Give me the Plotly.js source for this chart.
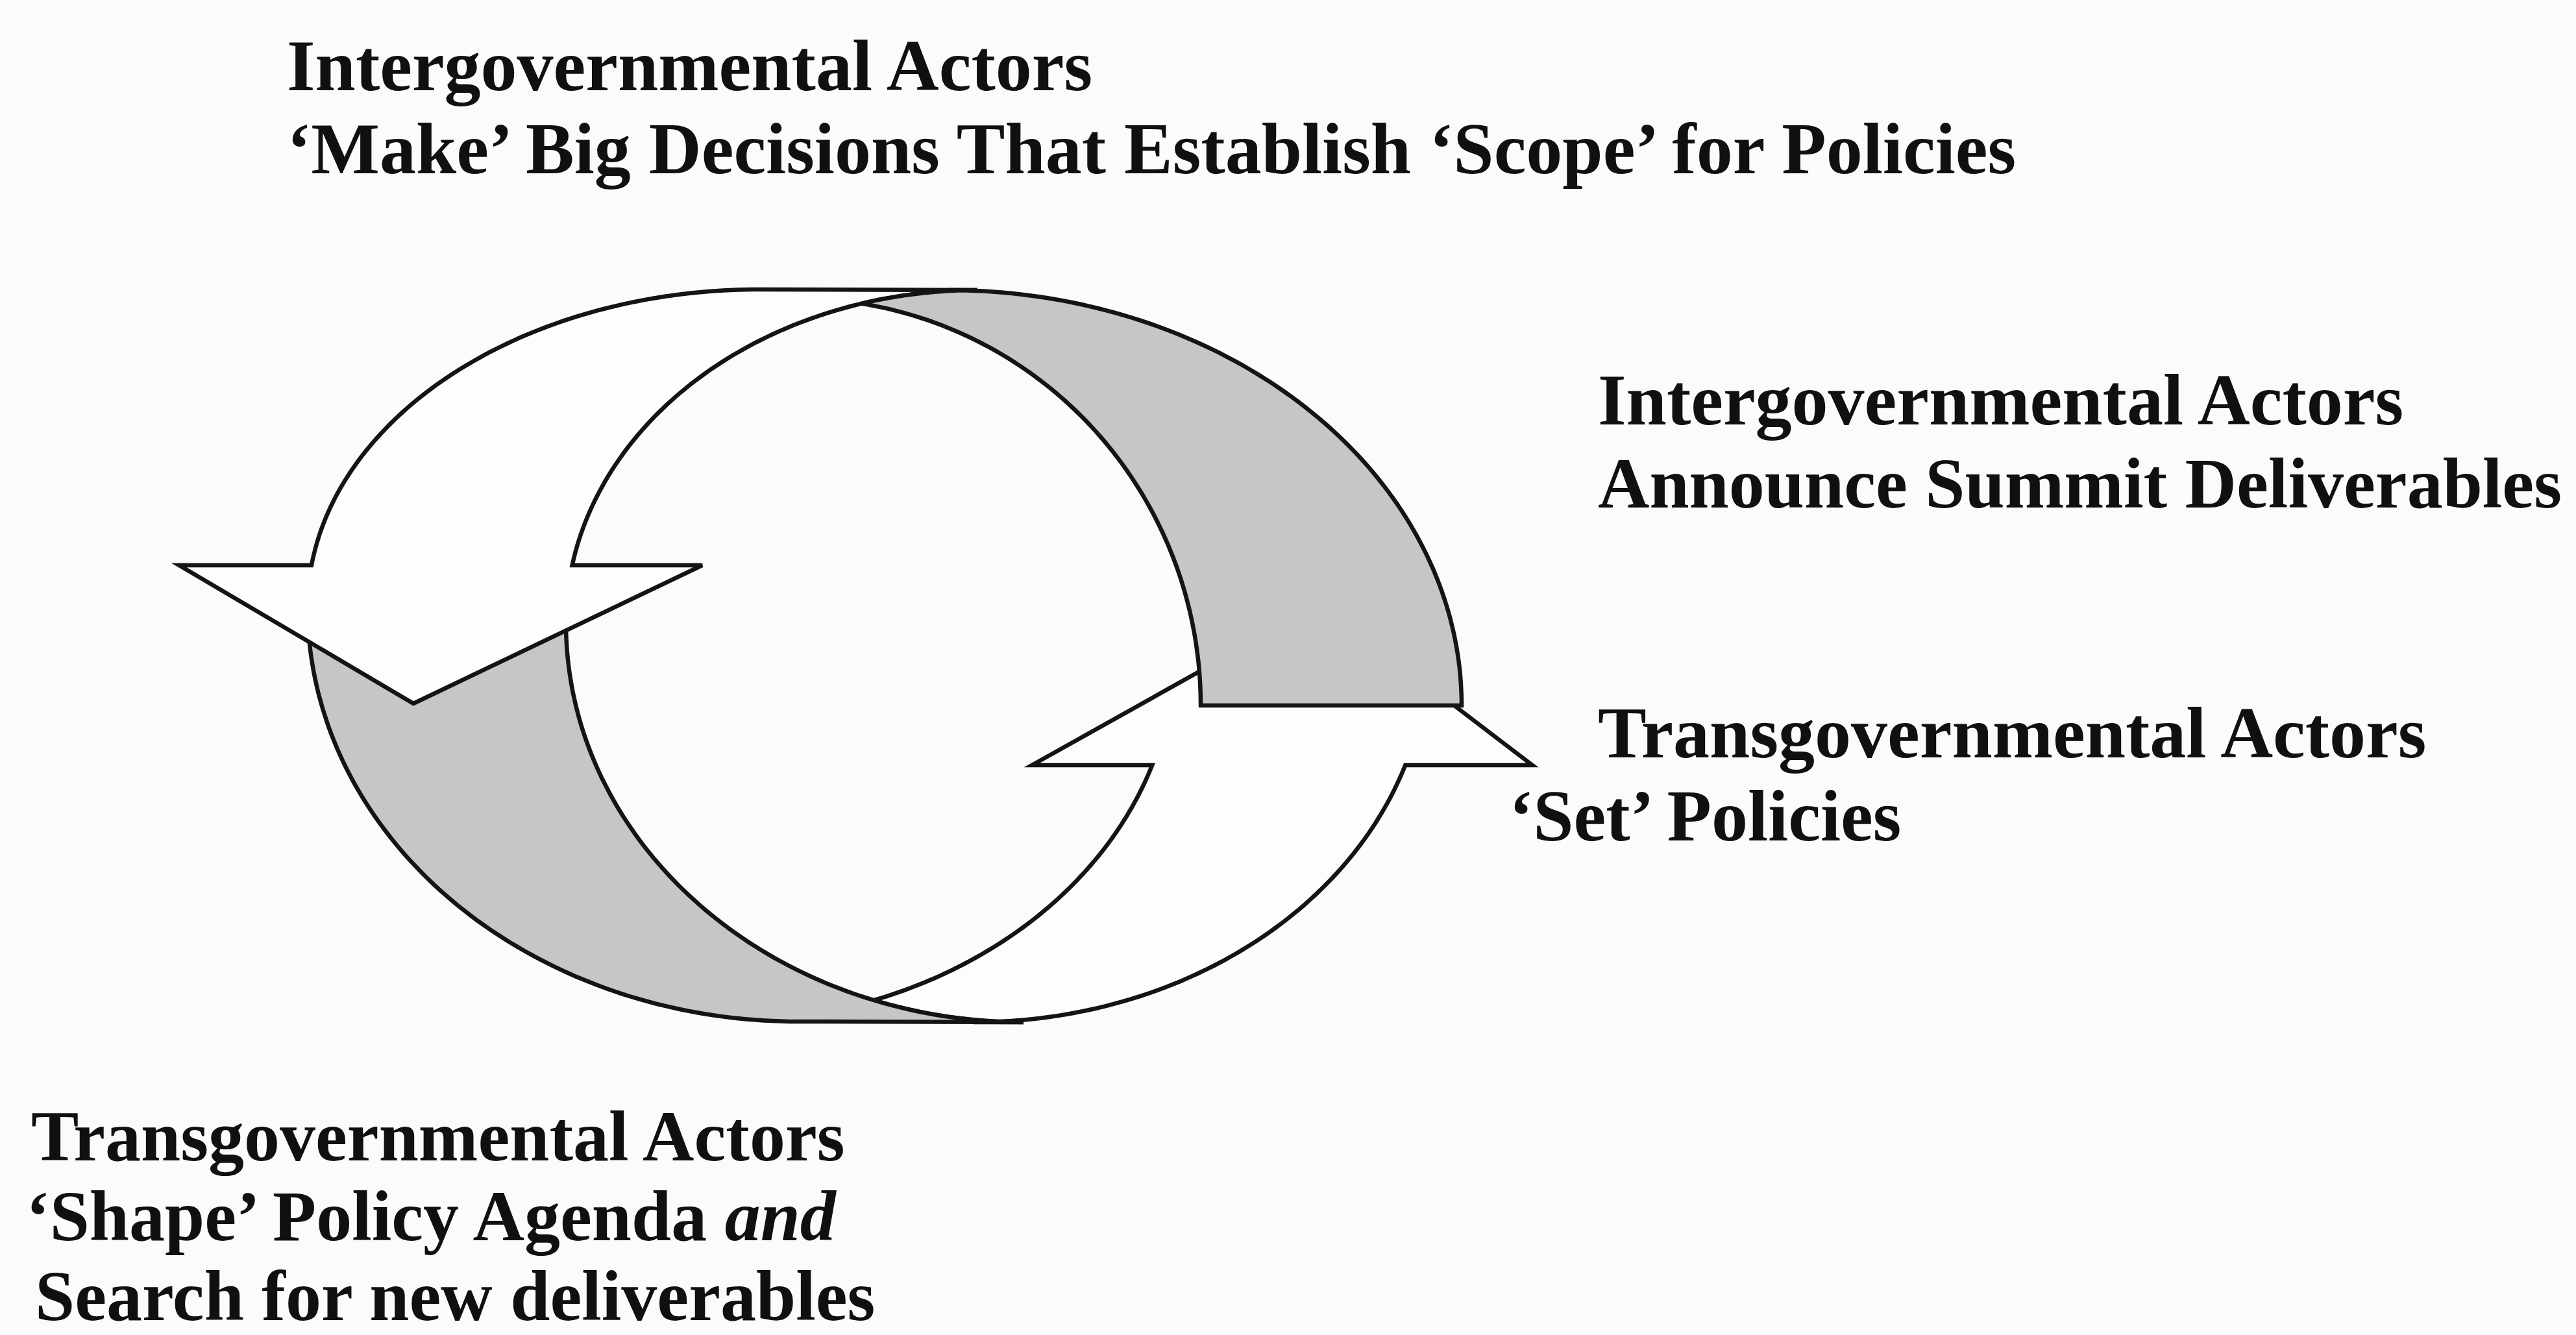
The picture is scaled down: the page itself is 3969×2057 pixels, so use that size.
<!DOCTYPE html>
<html>
<head>
<meta charset="utf-8">
<script src="https://cdn.plot.ly/plotly-3.0.1.min.js"></script>
<style>
  html, body { margin: 0; padding: 0; background: #fbfbfb; }
  #chart { width: 3969px; height: 2057px; }
</style>
</head>
<body>
<div id="chart"></div>
<script>
// ---- Text content of the diagram ----
const topLabels = [
  "Intergovernmental Actors",
  "‘Make’ Big Decisions That Establish ‘Scope’ for Policies"
];
const rightUpperLabels = [
  "Intergovernmental Actors",
  "Announce Summit Deliverables"
];
const rightLowerLabels = [
  "Transgovernmental Actors",
  "‘Set’ Policies"
];
const bottomLabels = [
  "Transgovernmental Actors",
  "‘Shape’ Policy Agenda <i>and</i>",
  "Search for new deliverables"
];

// ---- Geometry of the two cycle arrows (page pixels) ----
// each rim piece is a quarter ellipse: [cx, cy, rx, ry]
const rimOuterUL  = [1170, 935, 696, 489];   // white left arrow, outer edge (top-left)
const rimInnerUL  = [1506, 960, 634, 513];   // white left arrow, inner edge (top-left)
const rimOuterLL  = [1230, 935, 756, 639];   // grey lower band, outer edge
const rimInnerLL  = [1577, 960, 705, 615];   // grey lower band, inner edge
const rimOuterUR  = [1460, 1087, 792, 640];  // grey upper band, outer edge
const rimInnerUR  = [1230, 1087, 620, 627];  // grey upper band, inner edge
const rimOuterLR  = [1500, 1000, 700, 575];  // white right arrow, outer edge
const rimInnerLR  = [1110, 1000, 700, 575];  // white right arrow, inner edge
const leftHead  = { baseY: 871, leftTip: [276, 871], point: [637, 1084], rightTip: [1082, 871] };
const rightHead = { baseY: 1179, leftTip: [1590, 1179], point: [2035, 930], rightTip: [2361, 1179] };
const greyUpperFloorY = 1087;

// ---- helpers ----
const N = 90;
function ang(e, y, side) {               // parameter angle of the rim point at height y
  let s = (y - e[1]) / e[3];
  s = Math.max(-1, Math.min(1, s));
  const a = Math.asin(s);
  return side === 'L' ? Math.PI - a : a;
}
function arcPts(e, t0, t1) {
  const pts = [];
  for (let i = 0; i <= N; i++) {
    const t = t0 + (t1 - t0) * i / N;
    pts.push([e[0] + e[2] * Math.cos(t), e[1] + e[3] * Math.sin(t)]);
  }
  return pts;
}
function arcY(e, side, y0, y1) { return arcPts(e, ang(e, y0, side), ang(e, y1, side)); }
function xAt(e, y, side) { const t = ang(e, y, side); return e[0] + e[2] * Math.cos(t); }
function cuspY(eL, eR, lo, hi) {          // height where a left-side rim meets a right-side rim
  const f = y => xAt(eL, y, 'L') - xAt(eR, y, 'R');
  let a = lo, b = hi;
  for (let k = 0; k < 60; k++) {
    const m = (a + b) / 2;
    if (Math.sign(f(m)) === Math.sign(f(a))) a = m; else b = m;
  }
  return (a + b) / 2;
}
function toPath(pts) {
  return 'M ' + pts.map(p => p[0].toFixed(1) + ',' + p[1].toFixed(1)).join(' L ') + ' Z';
}
const topOf = e => e[1] - e[3];
const botOf = e => e[1] + e[3];

// white left arrow
const leftArrow = [].concat(
  arcY(rimOuterUL, 'L', topOf(rimOuterUL), leftHead.baseY),
  [leftHead.leftTip, leftHead.point, leftHead.rightTip],
  arcY(rimInnerUL, 'L', leftHead.baseY, topOf(rimInnerUL))
);
// grey lower band
const greyLow = [].concat(
  arcY(rimOuterLL, 'L', rimOuterLL[1], botOf(rimOuterLL)),
  arcY(rimInnerLL, 'L', botOf(rimInnerLL), rimInnerLL[1]),
  [[xAt(rimInnerUL, leftHead.baseY, 'L'), leftHead.baseY],
   [xAt(rimOuterUL, leftHead.baseY, 'L'), leftHead.baseY]]
);
// grey upper band
const cTop = cuspY(rimInnerUL, rimInnerUR, topOf(rimInnerUL) + 2, 560);
const greyUp = [].concat(
  arcY(rimInnerUL, 'L', cTop, topOf(rimInnerUL)),
  arcY(rimOuterUR, 'R', topOf(rimOuterUR), greyUpperFloorY),
  arcY(rimInnerUR, 'R', greyUpperFloorY, cTop)
);
// white right arrow
const cBot = cuspY(rimInnerLL, rimInnerLR, 1450, botOf(rimInnerLR) - 2);
const rightArrow = [].concat(
  arcY(rimInnerLR, 'R', cBot, rightHead.baseY),
  [rightHead.leftTip, rightHead.point, rightHead.rightTip],
  arcY(rimOuterLR, 'R', rightHead.baseY, botOf(rimOuterLR)),
  arcY(rimInnerLL, 'L', botOf(rimInnerLL), cBot)
);

const strokeColor = '#141414';
const greyFill = '#c6c6c6';
const whiteFill = '#fdfdfd';
const lw = 6.5;
function shape(pts, fill) {
  return { type: 'path', xref: 'x', yref: 'y', path: toPath(pts),
           fillcolor: fill, line: { color: strokeColor, width: lw }, layer: 'above' };
}
const shapes = [
  shape(rightArrow, whiteFill),
  shape(greyLow, greyFill),
  shape(leftArrow, whiteFill),
  shape(greyUp, greyFill)
];

// ---- text placement ----
const fontFamily = '"Liberation Serif", "Times New Roman", serif';
function block(labels, xs, baselines, sizes) {
  return labels.map((t, i) => ({
    text: '<b>' + t + '</b>', xref: 'x', yref: 'y',
    x: xs[i], y: baselines[i] - 0.34 * sizes[i],
    xanchor: 'left', yanchor: 'middle', showarrow: false, align: 'left',
    font: { family: fontFamily, size: sizes[i], color: '#101010' }
  }));
}
const annotations = [].concat(
  block(topLabels, [440, 440], [140, 268], [112, 112]),
  block(rightUpperLabels, [2460, 2460], [655, 782], [112, 110]),
  block(rightLowerLabels, [2460, 2323], [1168, 1295], [112, 112]),
  block(bottomLabels, [46, 38, 52], [1788, 1911, 2034], [110, 110, 110])
);

const layout = {
  width: 3969, height: 2057,
  margin: { l: 0, r: 0, t: 0, b: 0 },
  paper_bgcolor: '#fbfbfb', plot_bgcolor: '#fbfbfb',
  showlegend: false,
  xaxis: { range: [0, 3969], visible: false, fixedrange: true },
  yaxis: { range: [2057, 0], visible: false, fixedrange: true },
  shapes: shapes,
  annotations: annotations
};

Plotly.newPlot('chart', [{ x: [], y: [], type: 'scatter', mode: 'markers', hoverinfo: 'skip' }],
  layout, { staticPlot: true, displayModeBar: false });
</script>
</body>
</html>
